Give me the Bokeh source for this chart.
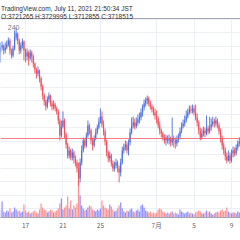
from bokeh.plotting import figure
from bokeh.models import Range1d, ColumnDataSource, FixedTicker, Span, Label, Grid, BoxAnnotation
from bokeh.embed import file_html
from bokeh.resources import INLINE

# ---- data (prices in thousands of JPY, 4-hour candles from Jun 14 08:00 JST) ----
first_open_k = 4356
closes_k = [
    4393, 4407, 4370, 4393, 4415, 4444, 4370, 4333, 4385, 4467,
    4496, 4444, 4370, 4407, 4437, 4370, 4326, 4356, 4311, 4356,
    4326, 4274, 4230, 4200, 4222, 4163, 4104, 4037, 3993, 3956,
    4007, 4037, 3978, 3956, 3970, 3941, 3919, 3852, 3741, 3807,
    3852, 3748, 3674, 3593, 3630, 3578, 3615, 3570, 3541, 3496,
    3422, 3541, 3630, 3704, 3667, 3741, 3815, 3778, 3704, 3667,
    3719, 3763, 3800, 3844, 3881, 3822, 3770, 3696, 3615, 3570,
    3593, 3533, 3496, 3519, 3541, 3496, 3467, 3541, 3630, 3652,
    3674, 3630, 3689, 3763, 3815, 3837, 3807, 3837, 3859, 3874,
    3911, 3948, 3978, 4000, 4015, 3978, 3956, 3933, 3911, 3889,
    3867, 3815, 3778, 3756, 3726, 3704, 3726, 3704, 3719, 3689,
    3719, 3704, 3681, 3711, 3733, 3770, 3807, 3830, 3852, 3881,
    3911, 3933, 3926, 3941, 3911, 3874, 3837, 3778, 3726, 3756,
    3778, 3756, 3793, 3770, 3800, 3822, 3844, 3830, 3852, 3815,
    3770, 3719, 3667, 3630, 3585, 3556, 3593, 3556, 3607, 3630,
    3607, 3652, 3681, 3696,
    3711, 3735, 3722, 3702, 3690, 3712, 3741, 3756, 3731, 3716, 3721.265, 3718.515,
]
highs_k = [
    4430, 4437, 4415, 4430, 4444, 4467, 4459, 4385, 4407, 4518,
    4541, 4504, 4459, 4430, 4459, 4444, 4385, 4385, 4370, 4378,
    4370, 4341, 4281, 4244, 4252, 4230, 4178, 4119, 4052, 4007,
    4030, 4059, 4044, 4000, 4000, 3985, 3956, 3933, 3867, 3852,
    3919, 3867, 3763, 3689, 3659, 3644, 3644, 3630, 3593, 3563,
    3541, 3570, 3667, 3726, 3719, 3763, 3852, 3830, 3793, 3726,
    3741, 3793, 3822, 3874, 3941, 3919, 3852, 3793, 3711, 3630,
    3622, 3607, 3556, 3548, 3570, 3556, 3519, 3570, 3659, 3681,
    3704, 3696, 3711, 3793, 3874, 3881, 3867, 3874, 3896, 3911,
    3941, 3970, 4007, 4022, 4037, 4030, 4000, 3970, 3956, 3941,
    3926, 3881, 3844, 3793, 3770, 3748, 3748, 3741, 3748, 3733,
    3874, 3741, 3726, 3741, 3756, 3800, 3837, 3859, 3889, 3926,
    3941, 3963, 3963, 3970, 3963, 3970, 3904, 3852, 3800, 3793,
    3807, 3800, 3889, 3815, 3881, 3867, 3881, 3867, 3881, 3867,
    3837, 3793, 3741, 3689, 3652, 3615, 3630, 3615, 3637, 3659,
    3652, 3674, 3704, 3726,
    3722, 3741, 3744, 3728, 3708, 3719, 3750, 3770, 3760, 3736, 3728, 3729.995,
]
lows_k = [
    4281, 4370, 4341, 4348, 4378, 4400, 4341, 4311, 4319, 4370,
    4444, 4415, 4341, 4348, 4385, 4296, 4281, 4296, 4259, 4296,
    4281, 4244, 4200, 4163, 4178, 4133, 4074, 4007, 3963, 3926,
    3941, 3985, 3956, 3926, 3933, 3919, 3896, 3822, 3704, 3726,
    3793, 3719, 3644, 3570, 3570, 3556, 3556, 3533, 3511, 3467,
    3370, 3393, 3519, 3615, 3644, 3652, 3726, 3748, 3674, 3630,
    3652, 3704, 3748, 3785, 3830, 3800, 3741, 3667, 3585, 3541,
    3548, 3511, 3474, 3474, 3496, 3467, 3393, 3437, 3526, 3607,
    3630, 3607, 3593, 3667, 3748, 3793, 3785, 3793, 3815, 3830,
    3852, 3881, 3926, 3956, 3970, 3956, 3933, 3911, 3889, 3859,
    3830, 3793, 3748, 3726, 3704, 3681, 3667, 3681, 3674, 3659,
    3667, 3652, 3644, 3659, 3689, 3711, 3756, 3793, 3807, 3837,
    3867, 3896, 3904, 3904, 3889, 3852, 3807, 3748, 3704, 3711,
    3733, 3726, 3741, 3748, 3756, 3778, 3807, 3800, 3807, 3793,
    3748, 3689, 3637, 3600, 3556, 3533, 3548, 3533, 3541, 3578,
    3585, 3593, 3630, 3659,
    3690, 3705, 3715, 3694, 3679, 3686, 3708, 3736, 3725, 3709, 3711, 3712.855,
]
volume_btc = [
    320, 640, 240, 200, 280, 240, 360, 200, 240, 400,
    320, 240, 280, 200, 240, 520, 280, 200, 240, 160,
    200, 240, 280, 200, 160, 320, 560, 400, 320, 280,
    200, 240, 320, 280, 200, 240, 280, 360, 560, 760,
    320, 400, 480, 840, 360, 680, 320, 480, 400, 560,
    1480, 880, 480, 360, 280, 320, 400, 480, 440, 320,
    280, 240, 320, 280, 360, 680, 480, 400, 360, 320,
    520, 440, 320, 240, 280, 360, 480, 600, 360, 240,
    200, 280, 240, 320, 360, 240, 200, 280, 320, 240,
    480, 520, 400, 280, 240, 200, 240, 160, 200, 160,
    200, 320, 360, 320, 240, 200, 160, 200, 160, 200,
    240, 160, 200, 160, 120, 320, 240, 200, 160, 200,
    240, 160, 200, 160, 120, 200, 240, 280, 240, 160,
    160, 200, 280, 200, 240, 160, 120, 160, 200, 240,
    200, 280, 320, 240, 280, 400, 240, 200, 160, 200,
    200, 160, 240, 200,
    160, 200, 120, 160, 200, 160, 120, 160, 200, 160, 120, 120,
]
tick_index = [16, 40, 64, 100, 124, 148]
tick_labels = ["17", "21", "25", "7月", "5", "9"]
header_time = "TradingView.com, July 11, 2021 21:50:34 JST"
header_ohlc = "O:3721265 H:3729995 L:3712855 C:3718515"
interval_label = "240"

# ---- derived columns ----
n = len(closes_k)
idx = list(range(n))
closes = [c * 1000 for c in closes_k]
highs = [h * 1000 for h in highs_k]
lows = [l * 1000 for l in lows_k]
opens = [first_open_k * 1000] + closes[:-1]
UP, DOWN = "#4b6fdc", "#f04e5a"
VUP, VDOWN = "#8585fb", "#fb8787"
is_up = [c >= o for c, o in zip(closes, opens)]
src = ColumnDataSource(dict(
    x=idx, o=opens, c=closes, h=highs, l=lows, v=volume_btc,
    top=[max(a, b) for a, b in zip(opens, closes)],
    bot=[min(a, b) for a, b in zip(opens, closes)],
    col=[UP if u else DOWN for u in is_up],
    vcol=[VUP if u else VDOWN for u in is_up],
))

Y0, YB, Y1 = 3133400, 4607400, 4740700   # chart bottom, header border, canvas top
p = figure(width=240, height=240, output_backend="svg", toolbar_location=None,
           x_range=Range1d(-0.02, 153.77), y_range=Range1d(Y0, Y1),
           y_axis_location=None, min_border_left=0, min_border_right=0,
           min_border_top=0, min_border_bottom=23)
p.outline_line_color = None
p.background_fill_color = "white"
p.border_fill_color = "white"
p.extra_y_ranges = {"vol": Range1d(0, 8680)}

# grids
p.xgrid.ticker = FixedTicker(ticks=tick_index)
p.xgrid.grid_line_color = "#eceff5"
p.add_layout(Grid(dimension=1, ticker=FixedTicker(ticks=[3200000 + 100000 * k for k in range(15)]),
                  grid_line_color="#eceff5"))

# x axis
ax = p.xaxis[0]
ax.ticker = FixedTicker(ticks=tick_index)
ax.major_label_overrides = {t: s for t, s in zip(tick_index, tick_labels)}
ax.major_tick_out = 0
ax.major_tick_in = 0
ax.minor_tick_out = 0
ax.minor_tick_in = 0
ax.major_label_standoff = 2
ax.axis_line_color = "#a3a6af"
ax.major_label_text_font = "Noto Sans CJK JP"
ax.major_label_text_font_size = "6.5px"
ax.major_label_text_color = "#5d606b"

# volume
p.vbar(x="x", top="v", bottom=0, width=0.8, source=src, y_range_name="vol",
       fill_color="vcol", line_color=None, fill_alpha=0.9)

# candles
p.segment(x0="x", y0="l", x1="x", y1="h", source=src, line_color="col", line_width=0.9)
p.vbar(x="x", top="top", bottom="bot", width=0.75, source=src, fill_color="col", line_color=None)

# last price line
p.add_layout(Span(location=closes[-1], dimension="width", line_color="#f7525f",
                  line_width=1, line_alpha=0.75))
# white header band and its border
p.add_layout(BoxAnnotation(bottom=YB, fill_color="white", fill_alpha=1.0, line_color=None))
p.add_layout(Span(location=YB, dimension="width", line_color="#a3a6af", line_width=1))

# header texts
p.add_layout(Label(x=0.35, y=4679200, text=header_time, text_font="Liberation Sans",
                   text_font_size="6.5px", text_color="#2a2e39", text_baseline="alphabetic"))
p.add_layout(Label(x=0.35, y=4620000, text=header_ohlc, text_font="Liberation Sans",
                   text_font_size="6.5px", text_color="#2a2e39", text_baseline="alphabetic"))
p.add_layout(Label(x=4.66, y=4538500, text=interval_label, text_font="Liberation Sans",
                   text_font_size="7px", text_color="#787b86", text_baseline="alphabetic"))

open("out.html", "w").write(file_html(p, INLINE))
